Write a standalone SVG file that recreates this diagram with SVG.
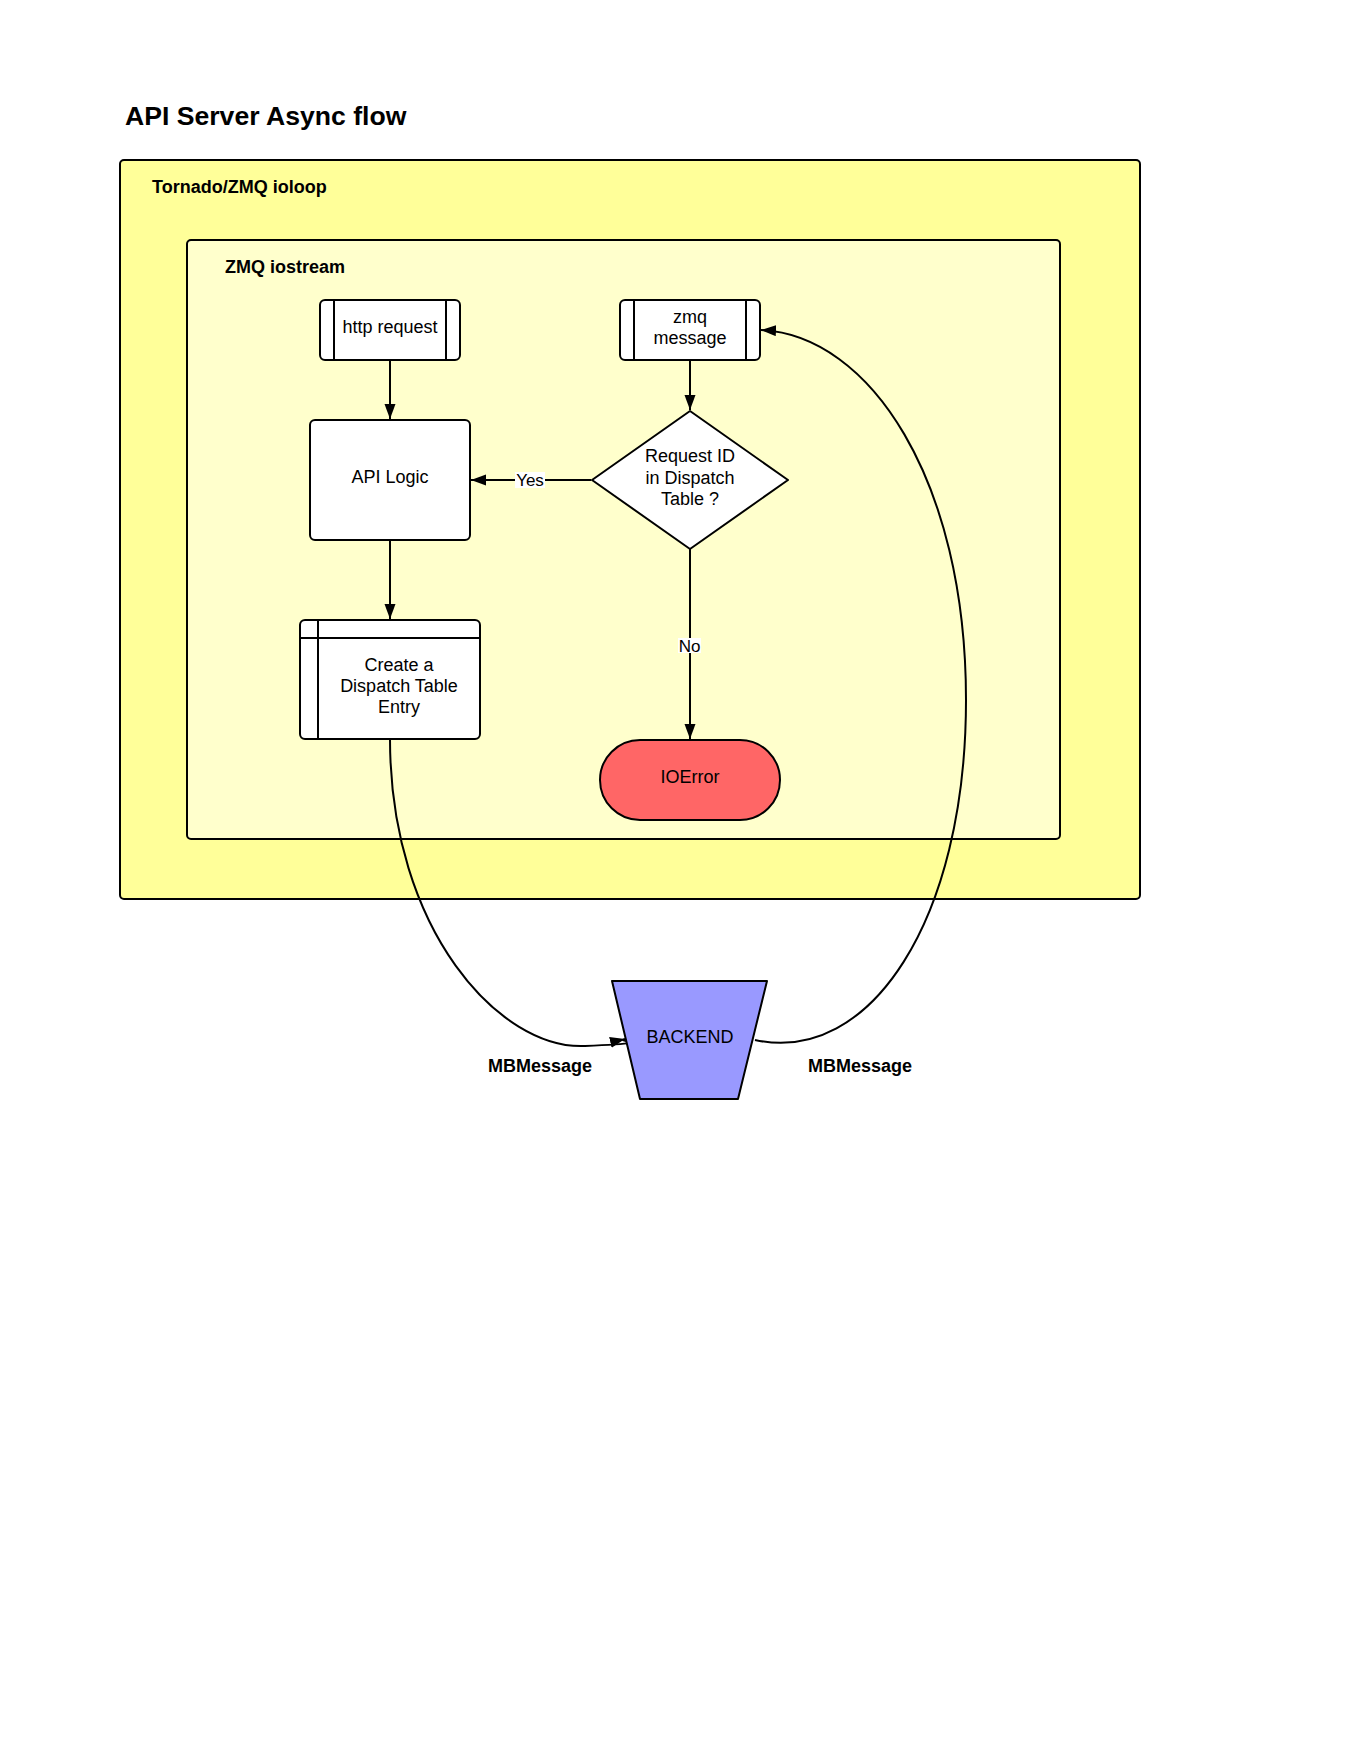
<svg xmlns="http://www.w3.org/2000/svg" width="1360" height="1760" viewBox="0 0 1360 1760">
<style>
.t{font-family:"Liberation Sans",Arial,sans-serif;font-size:18px;fill:#000;text-anchor:middle}
.b{font-family:"Liberation Sans",Arial,sans-serif;font-weight:bold;fill:#000}
.n{fill:#fff;stroke:#000;stroke-width:2}
.ln{fill:none;stroke:#000;stroke-width:2}
.c{fill:none;stroke:#000;stroke-width:2}
.lbl{font-family:"Liberation Sans",Arial,sans-serif;font-size:17px;fill:#000;text-anchor:middle}
</style>
<defs>
<marker id="ah" markerUnits="userSpaceOnUse" markerWidth="17" markerHeight="12" refX="15" refY="5.5" orient="auto">
<path d="M0,0 L15,5.5 L0,11 z" fill="#000"/>
</marker>
</defs>
<rect width="1360" height="1760" fill="#fff"/>
<text class="b" x="125" y="125" font-size="26.6">API Server Async flow</text>
<g id="ioloop">
<rect x="120" y="160" width="1020" height="739" rx="4" fill="#ffff99" stroke="#000" stroke-width="2"/>
<text class="b" x="152" y="193" font-size="18">Tornado/ZMQ ioloop</text>
</g>
<g id="iostream">
<rect x="187" y="240" width="873" height="599" rx="4" fill="#ffffcc" stroke="#000" stroke-width="2"/>
<text class="b" x="225" y="273" font-size="18">ZMQ iostream</text>
</g>
<g id="connectors">
<line class="c" x1="390" y1="360" x2="390" y2="419" marker-end="url(#ah)"/>
<line class="c" x1="690" y1="360" x2="690" y2="410" marker-end="url(#ah)"/>
<line class="c" x1="591" y1="480" x2="471" y2="480" marker-end="url(#ah)"/>
<line class="c" x1="390" y1="540" x2="390" y2="619" marker-end="url(#ah)"/>
<line class="c" x1="690" y1="549" x2="690" y2="739" marker-end="url(#ah)"/>
<path class="c" d="M390,739 C390,930 500,1050 585,1046 S612,1042 625,1039" marker-end="url(#ah)"/>
<path class="c" d="M755,1040 C870,1065 966,920 966,700 C966,480 870,335 761,330" marker-end="url(#ah)"/>
<rect x="515" y="472" width="30" height="16" fill="#fff"/>
<text class="lbl" x="530" y="486">Yes</text>
<rect x="678" y="638" width="23" height="15" fill="#fff"/>
<text class="lbl" x="689.5" y="652">No</text>
<text class="b" x="540" y="1072" font-size="18" text-anchor="middle">MBMessage</text>
<text class="b" x="860" y="1072" font-size="18" text-anchor="middle">MBMessage</text>
</g>
<g id="http-request">
<rect class="n" x="320" y="300" width="140" height="60" rx="5"/>
<line class="ln" x1="334" y1="300" x2="334" y2="360"/>
<line class="ln" x1="446" y1="300" x2="446" y2="360"/>
<text class="t" x="390" y="333">http request</text>
</g>
<g id="zmq-message">
<rect class="n" x="620" y="300" width="140" height="60" rx="5"/>
<line class="ln" x1="634" y1="300" x2="634" y2="360"/>
<line class="ln" x1="746" y1="300" x2="746" y2="360"/>
<text class="t" x="690" y="322.5">zmq</text>
<text class="t" x="690" y="343.5">message</text>
</g>
<g id="api-logic">
<rect class="n" x="310" y="420" width="160" height="120" rx="5"/>
<text class="t" x="390" y="483">API Logic</text>
</g>
<g id="decision">
<path class="n" stroke-linejoin="round" d="M690,411 L788,480 L690,549 L592,480 Z"/>
<text class="t" x="690" y="462">Request ID</text>
<text class="t" x="690" y="483.5">in Dispatch</text>
<text class="t" x="690" y="505">Table ?</text>
</g>
<g id="create-entry">
<rect class="n" x="300" y="620" width="180" height="119" rx="5"/>
<line class="ln" x1="318" y1="620" x2="318" y2="739"/>
<line class="ln" x1="300" y1="638" x2="480" y2="638"/>
<text class="t" x="399" y="671">Create a</text>
<text class="t" x="399" y="692">Dispatch Table</text>
<text class="t" x="399" y="713">Entry</text>
</g>
<g id="ioerror">
<rect x="600" y="740" width="180" height="80" rx="40" fill="#ff6666" stroke="#000" stroke-width="2"/>
<text class="t" x="690" y="783">IOError</text>
</g>
<g id="backend">
<path d="M612,981 L767,981 L738,1099 L640,1099 Z" fill="#9999ff" stroke="#000" stroke-width="2" stroke-linejoin="round"/>
<text class="t" x="690" y="1043">BACKEND</text>
</g>
</svg>
